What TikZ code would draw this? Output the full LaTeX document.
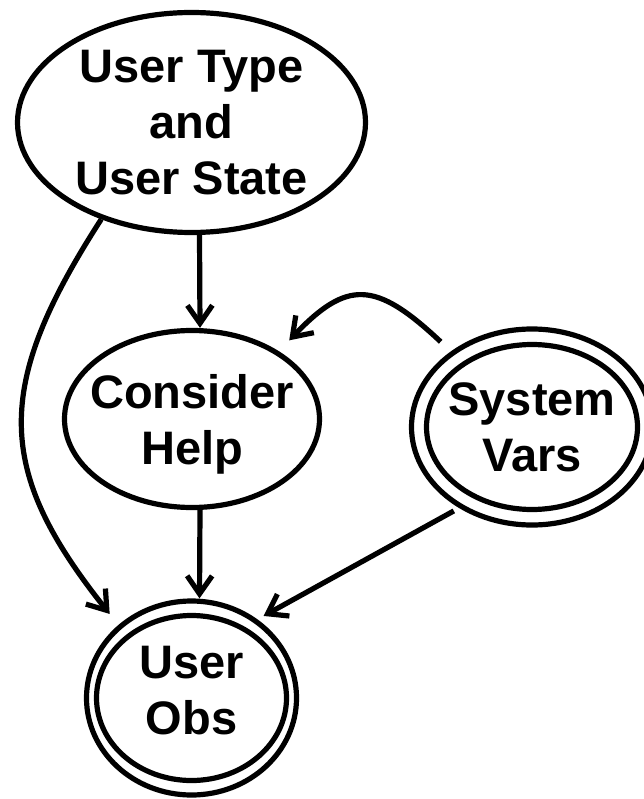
\documentclass[tikz,border=0pt]{standalone}
\usepackage{fontspec}
\setmainfont{Liberation Sans}
\usetikzlibrary{arrows.meta,shapes.geometric}
\begin{document}
\begin{tikzpicture}[x=1pt,y=-1pt,
  lw/.style={line width=5.2pt},
  ell/.style={ellipse, draw, line width=5.2pt, inner sep=-30pt, align=center,
    font=\fontsize{47}{56}\selectfont\bfseries},
  arr/.style={line width=5.2pt, -{Straight Barb[length=18pt,width=25pt]}}]
\useasboundingbox (0,0) rectangle (644,799);
% nodes
\node[ell, minimum width=348pt, minimum height=220pt] (top) at (191.5,122.5) {User Type\\and\\User State};
\node[ell, minimum width=255pt, minimum height=177pt, text depth=0pt] (ch) at (192,419) {Consider\\Help};
\node[ell, minimum width=241pt, minimum height=196pt] (sv) at (532,427) {System\\Vars};
\draw[lw] (sv.center) ellipse [x radius=105.5, y radius=82.5];
\node[ell, minimum width=210pt, minimum height=194pt, text depth=16pt] (uo) at (191.5,698) {User\\Obs};
\draw[lw] (uo.center) ellipse [x radius=95, y radius=82.5];
% connectors
\draw[arr] ([xshift=8pt]top.south) -- ([xshift=8pt]ch.north);
\draw[arr] ([xshift=8pt]ch.south) -- ([xshift=8pt]uo.north);
\draw[arr, shorten >=14pt] (top.227) .. controls (-7,387) and (-5,470) .. (uo.135);
\draw[arr, shorten <=14pt, shorten >=15pt] (sv.137) .. controls (375,280) and (347,280) .. (ch.38);
\draw[arr, shorten <=6pt, shorten >=7pt] (sv.228) -- (uo.50);
\end{tikzpicture}
\end{document}
